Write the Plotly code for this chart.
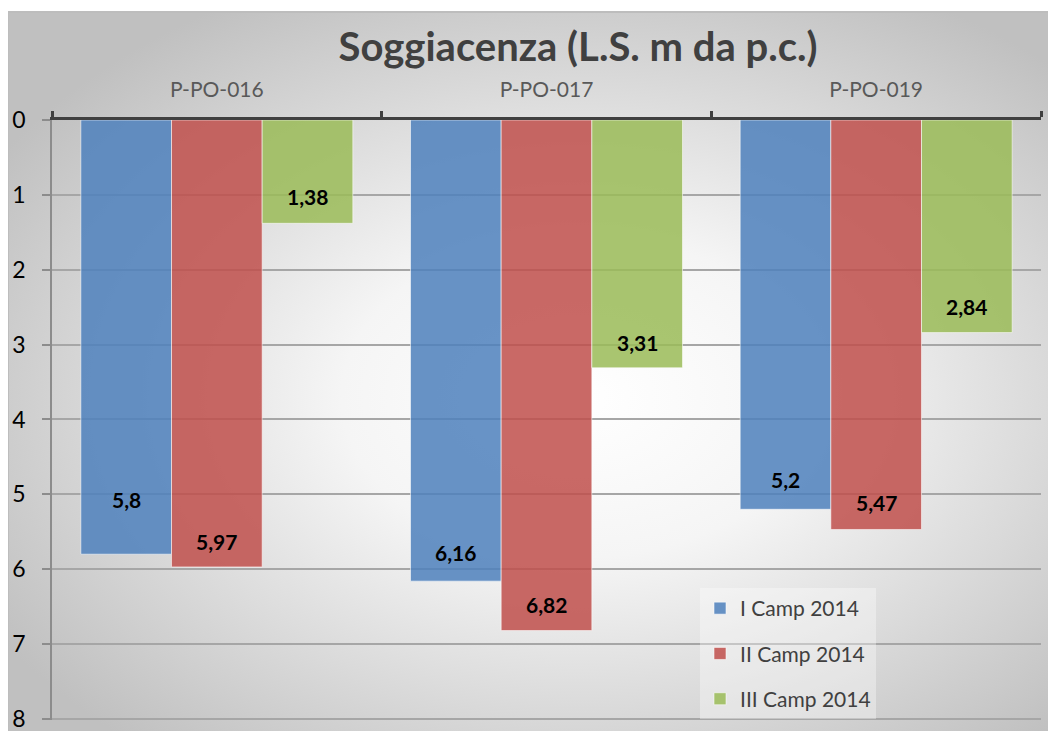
import base64
import plotly.graph_objects as go

categories = ["P-PO-016", "P-PO-017", "P-PO-019"]
series_names = ["I Camp 2014", "II Camp 2014", "III Camp 2014"]
camp1 = [5.8, 6.16, 5.2]
camp2 = [5.97, 6.82, 5.47]
camp3 = [1.38, 3.31, 2.84]
# vertical lift (px) of each data label above its bar end
label_lift = [[40, 14, 15], [11, 12, 12], [12, 11, 12]]
y_ticks = [0, 1, 2, 3, 4, 5, 6, 7, 8]

colors = ["rgba(79,129,189,0.86)", "rgba(192,80,77,0.86)", "rgba(155,187,89,0.86)"]

FONT = "Lato, 'Open Sans', sans-serif"
W, H = 1056, 731
OFF = 8  # page body margin: screenshot px = figure px + OFF
ml, mr, mt, mb = 52 - OFF, W - (1041 - OFF), 120 - OFF, H - (720 - OFF)
pw, ph = W - ml - mr, H - mt - mb
BARGAP = 0.175


def px_to_paper_x(px):
    return (px - OFF - ml) / pw


def px_to_paper_y(py):
    return (H - mb - (py - OFF)) / ph


def fmt(v):
    return ("%g" % v).replace(".", ",")


fig = go.Figure()
annotations = []
nser = len(series_names)
bw = (1 - BARGAP) / nser
for i, (name, vals) in enumerate(zip(series_names, [camp1, camp2, camp3])):
    fig.add_trace(go.Bar(
        x=categories, y=vals, name=name,
        marker=dict(color=colors[i], line=dict(color="rgba(255,255,255,0.55)", width=1)),
        legendgroup=name,
    ))
    for j, v in enumerate(vals):
        annotations.append(dict(
            x=j + (i - (nser - 1) / 2) * bw, y=v, xref="x", yref="y",
            text="<b>" + fmt(v) + "</b>", showarrow=False,
            xanchor="center", yanchor="bottom", yshift=label_lift[i][j],
            font=dict(family=FONT, size=21, color="#000000"),
        ))

svg = '''<svg xmlns="http://www.w3.org/2000/svg" width="1100" height="740" viewBox="0 0 1100 740">
<defs><radialGradient id="g" cx="0.52" cy="0.52" r="0.62" fx="0.52" fy="0.52">
<stop offset="0" stop-color="#ffffff"/><stop offset="0.35" stop-color="#f5f5f5"/>
<stop offset="1" stop-color="#c0c0c0"/></radialGradient></defs>
<rect width="1100" height="740" fill="url(#g)"/></svg>'''
src = "data:image/svg+xml;base64," + base64.b64encode(svg.encode()).decode()

x0p, x1p = px_to_paper_x(8), px_to_paper_x(1108)
y0p, y1p = px_to_paper_y(12), px_to_paper_y(752)

fig.update_layout(
    width=W, height=H,
    margin=dict(l=ml, r=mr, t=mt, b=mb, autoexpand=False),
    paper_bgcolor="#ffffff",
    plot_bgcolor="rgba(0,0,0,0)",
    barmode="group", bargap=BARGAP, bargroupgap=0.0,
    font=dict(family=FONT),
    annotations=annotations,
    images=[dict(source=src, xref="paper", yref="paper", x=x0p, y=y0p,
                 sizex=x1p - x0p, sizey=y0p - y1p, sizing="stretch",
                 xanchor="left", yanchor="top", layer="below")],
    shapes=[dict(type="rect", xref="paper", yref="paper", x0=x0p, x1=x1p, y0=y1p, y1=y0p,
                 line=dict(color="#bdbdbd", width=2), fillcolor="rgba(0,0,0,0)", layer="below")],
    title=dict(text="<b>Soggiacenza (L.S. m da p.c.)</b>", x=(578 - OFF) / W, xanchor="center",
               y=1 - (47 - OFF) / H, yanchor="middle",
               font=dict(family=FONT, size=40, color="#404040")),
    legend=dict(x=px_to_paper_x(700), y=px_to_paper_y(588), xanchor="left", yanchor="top",
                bgcolor="rgba(255,255,255,0.35)", borderwidth=0,
                font=dict(family=FONT, size=21, color="#404040"),
                tracegroupgap=15, itemwidth=30, traceorder="grouped"),
    xaxis=dict(side="top", type="category", showline=True, linecolor="#404040", linewidth=3,
               ticks="outside", tickson="boundaries", ticklen=6, tickwidth=3, tickcolor="#404040",
               ticklabelstandoff=12, showgrid=False, range=[-0.5, 2.5],
               tickfont=dict(family=FONT, size=21, color="#595959")),
    yaxis=dict(range=[8.015, 0], tickvals=y_ticks, showline=True, linecolor="#8c8c8c", linewidth=1.5,
               ticks="outside", ticklen=8, tickcolor="#8c8c8c", tickwidth=1.5,
               showgrid=True, gridcolor="#a6a6a6", gridwidth=1.5, zeroline=False,
               ticklabelstandoff=12,
               tickfont=dict(family=FONT, size=23, color="#000000")),
)

fig.write_html("out.html")
